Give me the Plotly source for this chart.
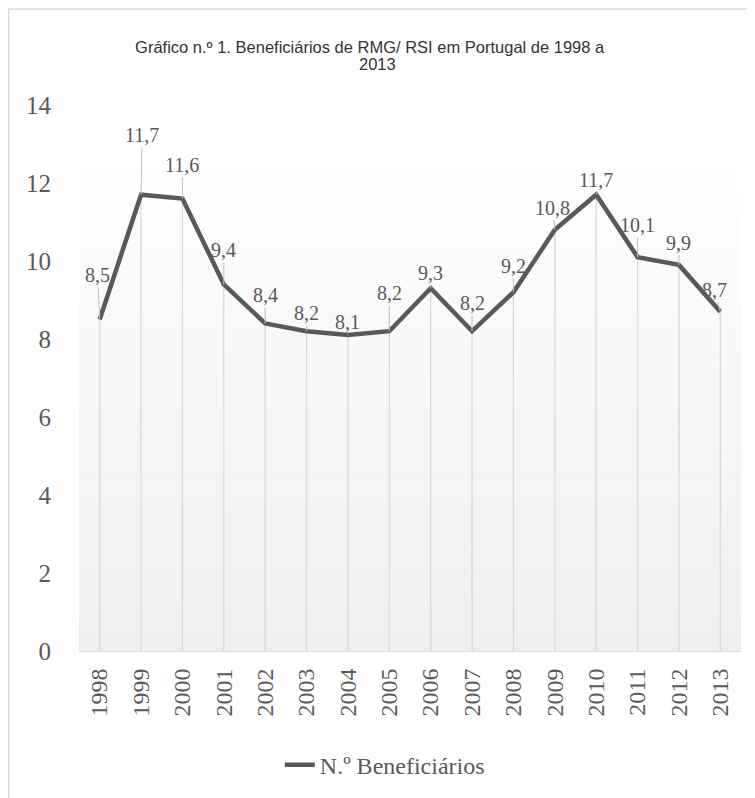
"""
Beneficiários de RMG/ RSI em Portugal, 1998-2013
Line chart with drop lines and data labels using Plotly
"""

import plotly.graph_objects as go

years = [1998, 1999, 2000, 2001, 2002, 2003, 2004, 2005,
         2006, 2007, 2008, 2009, 2010, 2011, 2012, 2013]
beneficiarios = [8.5, 11.7, 11.6, 9.4, 8.4, 8.2, 8.1, 8.2,
                 9.3, 8.2, 9.2, 10.8, 11.7, 10.1, 9.9, 8.7]
year_labels = [str(y) for y in years]
y_ticks = [0, 2, 4, 6, 8, 10, 12, 14]

SERIES_NAME = "N.º Beneficiários"
TITLE_LINE1 = "Gráfico n.º 1. Beneficiários de RMG/ RSI em Portugal de 1998 a"
TITLE_LINE2 = "2013"

SERIF = "Liberation Serif, Times New Roman, serif"
SANS = "Liberation Sans, Arial, sans-serif"
TEXT_COLOR = "#595959"
LINE_COLOR = "#595959"
DROP_COLOR = "#d9d9d9"

# plot area geometry (pixels inside the figure)
W, H = 755, 798
M_L, M_T, PLOT_W, PLOT_H = 71, 97, 662, 546

# label placement (pixel offsets from each point, as moved by hand in the original)
label_dx = [-2, 1, 0, 0, 0, 0, 0, 0, 0, 0, 0, -2, 0, 0, 0, -6]
label_dy = [-45, -60, -34, -34, -28, -18, -13, -38, -15, -28, -26, -22, -15, -32, -22, -22]

fig = go.Figure()

# background gradient of the plot area (white at top to light grey at the axis)
n_strips = 40
grad_top = 12.4
for i in range(n_strips):
    t = i / (n_strips - 1)
    level = int(round(0xef + (0xfe - 0xef) * t))
    fig.add_shape(
        type="rect", xref="paper", yref="y",
        x0=0, x1=1,
        y0=grad_top * i / n_strips, y1=grad_top * (i + 1) / n_strips,
        fillcolor=f"rgb({level},{level},{level})",
        line=dict(width=0), layer="below"
    )

# drop lines from the axis to each point, drawn as one-sided error bars
fig.add_trace(go.Scatter(
    x=years, y=beneficiarios,
    mode="markers",
    marker=dict(size=1, opacity=0),
    error_y=dict(
        type="data", symmetric=False,
        array=[0] * len(beneficiarios),
        arrayminus=beneficiarios,
        width=0, color=DROP_COLOR, thickness=1.3
    ),
    hoverinfo="skip",
    showlegend=False
))

fig.add_trace(go.Scatter(
    x=years, y=beneficiarios,
    name=SERIES_NAME,
    mode="lines",
    line=dict(color=LINE_COLOR, width=4.5)
))

# data labels with leader lines
for yr, v, dx, dy in zip(years, beneficiarios, label_dx, label_dy):
    fig.add_annotation(
        x=yr, y=v,
        text=f"{v:.1f}".replace(".", ","),
        showarrow=True, arrowhead=0, arrowwidth=1,
        arrowcolor="#bfbfbf", standoff=0,
        ax=dx, ay=dy,
        font=dict(family=SERIF, size=20, color=TEXT_COLOR)
    )

# second title line (tighter line spacing than a <br> title)
fig.add_annotation(
    text=TITLE_LINE2,
    xref="paper", yref="paper",
    x=(W * 0.49 - M_L) / PLOT_W, y=(M_T + PLOT_H - 56) / PLOT_H,
    xanchor="center", yanchor="middle",
    showarrow=False,
    font=dict(family=SANS, size=16.5, color="#333333")
)

# outer chart border
fig.add_shape(
    type="rect", xref="paper", yref="paper",
    x0=(0.5 - M_L) / PLOT_W, x1=1.05,
    y0=-0.4, y1=(M_T + PLOT_H - 1) / PLOT_H,
    line=dict(color="#d9d9d9", width=1.5),
    fillcolor="rgba(0,0,0,0)", layer="below"
)

fig.update_layout(
    width=W,
    height=H,
    margin=dict(l=M_L, r=W - M_L - PLOT_W, t=M_T, b=H - M_T - PLOT_H),
    paper_bgcolor="white",
    plot_bgcolor="white",
    title=dict(
        text=TITLE_LINE1,
        x=0.479, xanchor="center",
        y=1 - 39 / H, yanchor="middle",
        font=dict(family=SANS, size=16.5, color="#333333")
    ),
    xaxis=dict(
        range=[years[0] - 0.5, years[-1] + 0.5],
        tickvals=years,
        ticktext=year_labels,
        showgrid=False,
        zeroline=False,
        showline=True, linecolor=DROP_COLOR, linewidth=1,
        ticks="",
        tickangle=-90,
        tickfont=dict(family=SERIF, size=24, color=TEXT_COLOR),
        ticklabelstandoff=7,
        automargin=False
    ),
    yaxis=dict(
        range=[0, 14],
        tickvals=y_ticks,
        showgrid=False,
        zeroline=False,
        showline=False,
        ticks="",
        tickfont=dict(family=SERIF, size=25, color=TEXT_COLOR),
        ticklabelstandoff=27,
        automargin=False
    ),
    legend=dict(
        orientation="h",
        x=0.462, xanchor="center",
        y=-0.209, yanchor="middle",
        font=dict(family=SERIF, size=24, color=TEXT_COLOR),
        bgcolor="rgba(0,0,0,0)"
    ),
    showlegend=True
)

fig.write_html("out.html")
